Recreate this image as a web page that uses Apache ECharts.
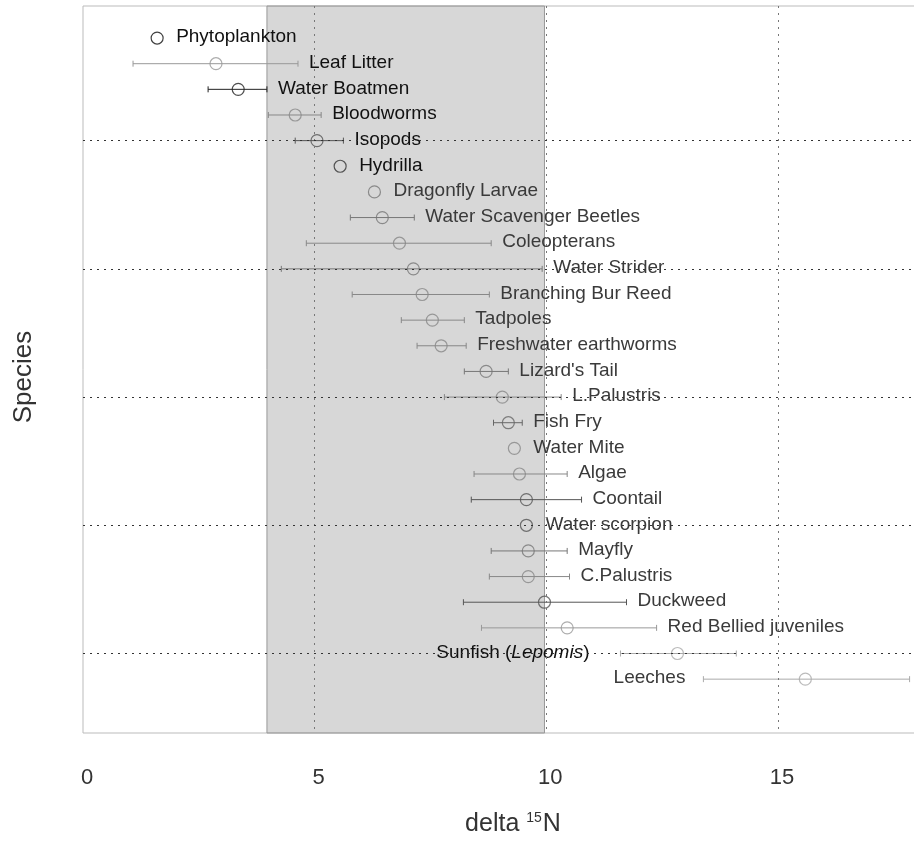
<!DOCTYPE html>
<html>
<head>
<meta charset="utf-8">
<script src="https://cdn.jsdelivr.net/npm/echarts@6/dist/echarts.min.js"></script>
<style>
html,body{margin:0;padding:0;background:#fff}
#chart{width:914px;height:844px}
</style>
</head>
<body>
<div id="chart"></div>
<script>
/* delta 15N per species, mean with range (null = no bar) */
var species = ['Phytoplankton', 'Leaf Litter', 'Water Boatmen', 'Bloodworms', 'Isopods', 'Hydrilla',
  'Dragonfly Larvae', 'Water Scavenger Beetles', 'Coleopterans', 'Water Strider', 'Branching Bur Reed',
  'Tadpoles', 'Freshwater earthworms', "Lizard's Tail", 'L.Palustris', 'Fish Fry', 'Water Mite', 'Algae',
  'Coontail', 'Water scorpion', 'Mayfly', 'C.Palustris', 'Duckweed', 'Red Bellied juveniles',
  'Sunfish', 'Leeches'];
var means = [1.60, 2.87, 3.35, 4.58, 5.05, 5.55, 6.29, 6.46, 6.83, 7.13, 7.32, 7.54, 7.73, 8.70,
  9.05, 9.18, 9.31, 9.42, 9.57, 9.57, 9.61, 9.61, 9.96, 10.45, 12.83, 15.59];
var lows = [null, 1.08, 2.70, 4.00, 4.58, null, null, 5.77, 4.82, 4.28, 5.81, 6.87, 7.21, 8.23,
  7.80, 8.86, null, 8.44, 8.38, null, 8.81, 8.77, 8.21, 8.60, 11.60, 13.39];
var highs = [null, 4.64, 3.97, 5.14, 5.62, null, null, 7.15, 8.81, 9.91, 8.77, 8.23, 8.27, 9.18,
  10.32, 9.48, null, 10.45, 10.76, null, 10.45, 10.50, 11.73, 12.38, 14.10, 17.84];
var band = [3.97, 9.96];
var xTicks = [0, 5, 10, 15];
var yLines = [5, 10, 15, 20, 25];

// grey of each mark (the scan is uneven)
var shades = ['#111', '#999', '#222', '#888', '#555', '#333', '#777', '#777', '#888', '#777', '#888',
  '#888', '#888', '#777', '#888', '#666', '#888', '#888', '#555', '#555', '#777', '#888', '#555',
  '#999', '#aaa', '#aaa'];
var leftLabel = { 'Sunfish': -31, 'Leeches': -18 };
var FONT = '"Liberation Sans", Arial, sans-serif';

var chart = echarts.init(document.getElementById('chart'));

var lineData = [];
xTicks.forEach(function (v) {
  if (v > 0) lineData.push({ xAxis: v, lineStyle: { color: '#777' } });
});
yLines.forEach(function (v) {
  lineData.push({ yAxis: v, lineStyle: { color: '#333' } });
});

option = {
  animation: false,
  grid: {
    left: 83, right: -3, top: 6, bottom: 111,
    outerBoundsMode: 'none', containLabel: false,
    show: true, borderColor: '#bbb', borderWidth: 1
  },
  xAxis: {
    type: 'value', min: 0, max: 18, interval: 5,
    axisLine: { show: false }, axisTick: { show: false }, splitLine: { show: false },
    axisLabel: {
      margin: 34, color: '#333', fontSize: 22, fontFamily: FONT, padding: [0, 0, 0, 8],
      formatter: function (v) { return xTicks.indexOf(v) >= 0 ? v : ''; }
    }
  },
  yAxis: {
    type: 'value', min: -0.25, max: 28.1, inverse: true,
    axisLine: { show: false }, axisTick: { show: false },
    axisLabel: { show: false }, splitLine: { show: false }
  },
  graphic: [
    {
      type: 'text', x: 24, y: 377, rotation: Math.PI / 2,
      style: { text: 'Species', font: '26px ' + FONT, fill: '#333', align: 'center', verticalAlign: 'middle' }
    },
    {
      type: 'text', x: 513, y: 824,
      style: {
        text: '{a|delta }{s|15}{a|N}', align: 'center', verticalAlign: 'middle',
        rich: {
          a: { fontSize: 25, fontFamily: FONT, fill: '#333', verticalAlign: 'bottom' },
          s: { fontSize: 14, fontFamily: FONT, fill: '#333', verticalAlign: 'top', padding: [0, 1, 12, 0] }
        }
      }
    }
  ],
  series: [
    {
      // dotted grid
      type: 'scatter', data: [], z: 1, silent: true,
      markLine: {
        silent: true, symbol: 'none', label: { show: false },
        lineStyle: { type: [2, 5], width: 1 },
        data: lineData
      }
    },
    {
      // shaded band
      type: 'scatter', data: [], z: 2, silent: true,
      markArea: {
        silent: true,
        itemStyle: { color: 'rgba(175,175,175,0.5)', borderColor: '#999', borderWidth: 1 },
        data: [[{ xAxis: band[0] }, { xAxis: band[1] }]]
      }
    },
    {
      type: 'custom', z: 3,
      data: means.map(function (m, i) { return [m, i + 1]; }),
      encode: { x: 0, y: 1 },
      renderItem: function (params, api) {
        var i = params.dataIndex;
        var y = api.value(1);
        var c = api.coord([api.value(0), y]);
        var col = shades[i];
        var kids = [];
        var tx = c[0] + 19, align = 'left';
        if (lows[i] != null) {
          var a = api.coord([lows[i], y]), b = api.coord([highs[i], y]);
          kids.push({ type: 'line', shape: { x1: a[0], y1: a[1], x2: b[0], y2: b[1] }, style: { stroke: col, lineWidth: 1 } });
          kids.push({ type: 'line', shape: { x1: a[0], y1: a[1] - 3, x2: a[0], y2: a[1] + 3 }, style: { stroke: col, lineWidth: 1 } });
          kids.push({ type: 'line', shape: { x1: b[0], y1: b[1] - 3, x2: b[0], y2: b[1] + 3 }, style: { stroke: col, lineWidth: 1 } });
          tx = b[0] + 11;
        }
        var name = species[i];
        if (leftLabel[name] != null) {
          var l = api.coord([lows[i], y]);
          tx = l[0] + leftLabel[name];
          align = 'right';
        }
        var tcol = i < 6 || name == 'Sunfish' ? '#111' : '#3a3a3a';
        var style = { text: name, x: tx, y: c[1] - 1, font: '19px ' + FONT, fill: tcol, align: align, verticalAlign: 'middle' };
        if (name == 'Sunfish') {
          style.text = '{n|Sunfish (}{i|Lepomis}{n|)}';
          style.rich = {
            n: { fontSize: 19, fontFamily: FONT, fill: tcol },
            i: { fontSize: 19, fontFamily: FONT, fill: tcol, fontStyle: 'italic' }
          };
        }
        kids.push({ type: 'text', style: style });
        return { type: 'group', children: kids };
      }
    },
    {
      type: 'scatter', z: 4,
      symbol: 'circle', symbolSize: 12,
      data: means.map(function (m, i) {
        return { value: [m, i + 1], itemStyle: { color: 'rgba(0,0,0,0)', borderColor: shades[i], borderWidth: 1.2 } };
      })
    }
  ]
};

chart.setOption(option, true);
</script>
</body>
</html>
